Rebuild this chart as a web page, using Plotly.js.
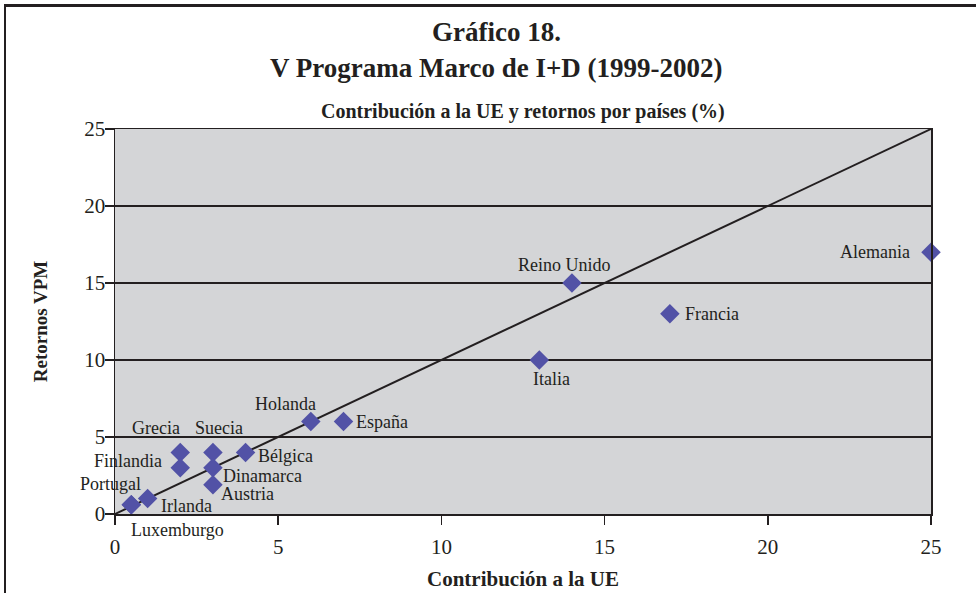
<!DOCTYPE html>
<html>
<head>
<meta charset="utf-8">
<script src="https://cdn.plot.ly/plotly-3.0.1.min.js"></script>
<style>
  html, body { margin: 0; padding: 0; background: #fff; }
  #wrap { position: relative; width: 976px; height: 593px; overflow: hidden; }
  #chart { width: 976px; height: 593px; }
  #frame { position: absolute; left: 4px; top: 4px; width: 1000px; height: 700px;
           border-left: 2px solid #231f20; border-top: 3px solid #231f20; pointer-events: none; }
</style>
</head>
<body>
<div id="wrap">
  <div id="chart"></div>
  <div id="frame"></div>
</div>
<script>
// Data
const countries    = ["Alemania", "Reino Unido", "Francia", "Italia", "España", "Holanda", "Bélgica",
                      "Grecia", "Suecia", "Finlandia", "Dinamarca", "Austria", "Irlanda", "Portugal", "Luxemburgo"];
const contribucion = [25, 14, 17, 13, 7, 6, 4, 2, 3, 2, 3, 3, 1, 0.5, 0.5];
const retornos     = [17, 15, 13, 10, 6, 6, 4, 4, 4, 3, 3, 1.9, 1, 0.6, 0.6];
const diagonalX    = [0, 25];
const diagonalY    = [0, 25];
const tickVals     = [0, 5, 10, 15, 20, 25];
const titleLines   = ["Gráfico 18.", "V Programa Marco de I+D (1999-2002)"];
const subtitle     = "Contribución a la UE y retornos por países (%)";

// Label placement (style only): [xanchor, xshift, yshift]
const labelStyle = {
  "Alemania":    ["right", -20, 0],
  "Reino Unido": ["center", -7, 18],
  "Francia":     ["left", 14, 0],
  "Italia":      ["center", 12, -19],
  "España":      ["left", 12, 0],
  "Holanda":     ["center", -25, 18],
  "Bélgica":     ["left", 11, -4],
  "Grecia":      ["center", -24, 24],
  "Suecia":      ["center", 6, 24],
  "Finlandia":   ["right", -17, 7],
  "Dinamarca":   ["left", 9, -8],
  "Austria":     ["left", 7, -9],
  "Irlanda":     ["left", 12, -7],
  "Portugal":    ["center", -21, 21],
  "Luxemburgo":  ["center", 46, -25]
};

const ink = "#231f20";
const serif = "'Liberation Serif', 'Times New Roman', serif";

const traces = [
  {
    x: diagonalX, y: diagonalY, type: "scatter", mode: "lines",
    line: { color: ink, width: 2 }, hoverinfo: "skip", showlegend: false
  },
  {
    x: contribucion, y: retornos, text: countries, type: "scatter", mode: "markers",
    marker: { symbol: "diamond", size: 15, color: "#5252a6", line: { width: 0 } },
    cliponaxis: false, showlegend: false
  }
];

const annotations = countries.map((c, i) => ({
  x: contribucion[i], y: retornos[i], xref: "x", yref: "y",
  text: c, showarrow: false,
  xanchor: labelStyle[c][0], yanchor: "middle",
  xshift: labelStyle[c][1], yshift: labelStyle[c][2],
  borderpad: 0,
  font: { family: serif, size: 18, color: ink }
}));

annotations.push(
  { xref: "paper", yref: "paper", x: 0.468, y: 1, yanchor: "middle", yshift: 97, showarrow: false,
    text: titleLines[0], font: { family: serif, size: 27, color: ink, weight: "bold" } },
  { xref: "paper", yref: "paper", x: 0.468, y: 1, yanchor: "middle", yshift: 61, showarrow: false,
    text: titleLines[1], font: { family: serif, size: 27, color: ink, weight: "bold" } },
  { xref: "paper", yref: "paper", x: 0.5, y: 1, yanchor: "middle", yshift: 18, showarrow: false,
    text: subtitle, font: { family: serif, size: 20, color: ink, weight: "bold" } }
);

const layout = {
  width: 976, height: 593,
  margin: { l: 115, r: 45, t: 129, b: 79 },
  paper_bgcolor: "#ffffff",
  plot_bgcolor: "#d4d5d7",
  font: { family: serif, color: ink, size: 18 },
  xaxis: {
    range: [0, 25], tickvals: tickVals, ticks: "outside", ticklen: 9, tickwidth: 1.5, tickcolor: ink,
    showline: true, linecolor: ink, linewidth: 1.5, mirror: true,
    showgrid: false, zeroline: false, ticklabelstandoff: 4,
    tickfont: { family: serif, size: 21, color: ink },
    title: { text: "Contribución a la UE", font: { family: serif, size: 21, color: ink, weight: "bold" }, standoff: 13 }
  },
  yaxis: {
    range: [0, 25], tickvals: tickVals, ticks: "outside", ticklen: 9, tickwidth: 1.5, tickcolor: ink,
    showline: true, linecolor: ink, linewidth: 1.5, mirror: true,
    showgrid: true, gridcolor: ink, gridwidth: 1.5, zeroline: false, ticklabelstandoff: -5,
    tickfont: { family: serif, size: 21, color: ink },
    title: { text: "Retornos VPM", font: { family: serif, size: 19, color: ink, weight: "bold" }, standoff: 31 }
  },
  annotations: annotations,
  showlegend: false
};

Plotly.newPlot("chart", traces, layout, { displayModeBar: false, staticPlot: true });
</script>
</body>
</html>
